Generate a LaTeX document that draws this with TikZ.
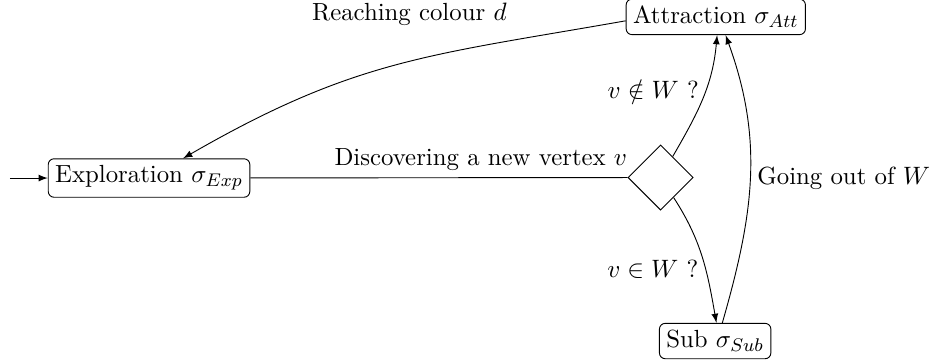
\documentclass[tikz,border=0pt]{standalone}
\usetikzlibrary{shapes.geometric,arrows}
\begin{document}
\begin{tikzpicture}[>=latex,
  every node/.style={font=\fontsize{10.8}{13}\selectfont},
  state/.style={draw,rounded corners=2.5pt,inner sep=3pt},
  choice/.style={draw,diamond,minimum width=1cm,minimum height=1cm,inner sep=0pt},
  lbl/.style={inner sep=3pt}]
\useasboundingbox (0,0) rectangle (14.24,5.544);
\node[state] (exp) at (2.282,2.818) {Exploration $\sigma_{Exp}$};
\node[state] (att) at (10.96,5.285) {Attraction $\sigma_{Att}$};
\node[choice] (dia) at (10.115,2.826) {};
\node[state] (sub) at (10.95,0.322) {Sub $\sigma_{Sub}$};
\coordinate (init) at (0.15,2.818);
\draw[->] (init) -- (exp);
\draw (exp) -- node[pos=1,above left,xshift=3pt,lbl] {Discovering a new vertex $v$} (dia);
\draw[->] ([yshift=-1.7pt]att.west) to[out=190,in=30,looseness=1.1]
  node[pos=0.5,above,xshift=6pt,yshift=14pt,lbl] {Reaching colour $d$} (exp);
\draw[->] (dia) to[out=60,in=-95]
  node[pos=0.58,left,lbl] {$v\notin W$ ?} ([xshift=0.02cm]att.south);
\draw[->] (dia) to[out=-57,in=100]
  node[pos=0.6,left,lbl] {$v\in W$ ?} ([xshift=0.02cm]sub.north);
\draw[->] ([xshift=0.11cm]sub.north) to[out=74,in=-70]
  node[pos=0.5,right,lbl] {Going out of $W$} ([xshift=0.15cm]att.south);
\end{tikzpicture}
\end{document}
